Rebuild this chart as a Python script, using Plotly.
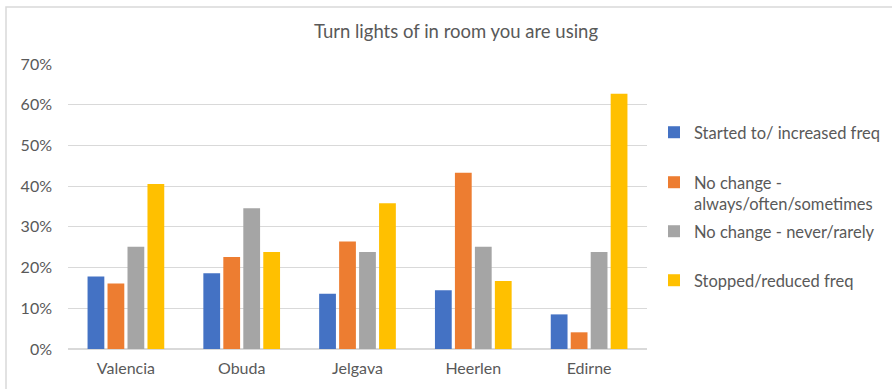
import plotly.graph_objects as go

cities = ["Valencia", "Obuda", "Jelgava", "Heerlen", "Edirne"]
started = [0.178, 0.186, 0.136, 0.144, 0.085]
no_change_often = [0.161, 0.226, 0.264, 0.433, 0.041]
no_change_rarely = [0.251, 0.346, 0.238, 0.251, 0.238]
stopped = [0.405, 0.238, 0.358, 0.167, 0.627]

series_names = [
    "Started to/ increased freq",
    "No change -<br>always/often/sometimes",
    "No change - never/rarely",
    "Stopped/reduced freq",
]
series_values = [started, no_change_often, no_change_rarely, stopped]
series_colors = ["#4472C4", "#ED7D31", "#A5A5A5", "#FFC000"]

y_ticks = [0, 0.1, 0.2, 0.3, 0.4, 0.5, 0.6, 0.7]

FONT = "Lato, Carlito, Calibri, sans-serif"
TEXT = "#595959"

# plot area geometry (px) used to place each legend entry
PLOT_TOP, PLOT_BOTTOM = 64, 349
PLOT_LEFT, PLOT_RIGHT = 68, 647
PLOT_H = PLOT_BOTTOM - PLOT_TOP
PLOT_W = PLOT_RIGHT - PLOT_LEFT
legend_rows_px = [133, 183, 232, 281]   # first-line centre of each entry
legend_ids = ["legend", "legend2", "legend3", "legend4"]

fig = go.Figure()
for name, vals, col, lid in zip(series_names, series_values, series_colors, legend_ids):
    fig.add_trace(go.Bar(
        x=cities, y=vals, name=name, legend=lid,
        marker=dict(color=col, line=dict(width=0)),
    ))

legend_x = (654 - PLOT_LEFT) / PLOT_W
legends = {}
for lid, row in zip(legend_ids, legend_rows_px):
    legends[lid] = dict(
        x=legend_x, xanchor="left",
        y=(PLOT_BOTTOM - (row - 18)) / PLOT_H, yanchor="top",
        font=dict(family=FONT, size=16.5, color=TEXT),
        valign="top", itemwidth=30, bgcolor="rgba(0,0,0,0)",
    )

fig.update_layout(
    width=892, height=389,
    margin=dict(l=PLOT_LEFT, r=892 - PLOT_RIGHT, t=PLOT_TOP, b=389 - PLOT_BOTTOM,
                autoexpand=False),
    paper_bgcolor="white", plot_bgcolor="white",
    barmode="group", bargap=0.31, bargroupgap=0.16,
    font=dict(family=FONT, size=16, color=TEXT),
    title=dict(text="Turn lights of in room you are using",
               x=456 / 892, xanchor="center", xref="container",
               y=1 - 32 / 389, yanchor="middle", yref="container",
               font=dict(family=FONT, size=18.5, color=TEXT)),
    showlegend=True,
    **legends,
    xaxis=dict(showgrid=False, showline=True, linecolor="#d9d9d9", linewidth=1,
               ticks="", tickfont=dict(family=FONT, size=16, color=TEXT),
               ticklabelstandoff=5),
    yaxis=dict(range=[0, 0.7], tickvals=y_ticks, tickformat=".0%",
               showgrid=True, gridcolor="#d9d9d9", gridwidth=1,
               zeroline=True, zerolinecolor="#d9d9d9",
               showline=False, ticks="",
               tickfont=dict(family=FONT, size=16, color=TEXT),
               ticklabelstandoff=15),
    shapes=[dict(type="rect", xref="paper", yref="paper",
                 x0=-62 / PLOT_W, x1=1 + 260 / PLOT_W,
                 y0=-60 / PLOT_H, y1=1 + 57 / PLOT_H,
                 line=dict(color="#d9d9d9", width=1.5),
                 fillcolor="rgba(0,0,0,0)", layer="below")],
)

fig.write_html("out.html")
